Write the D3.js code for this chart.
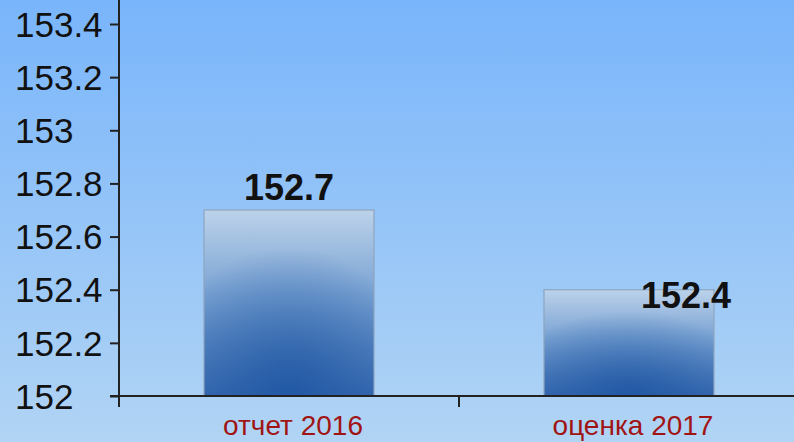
<!DOCTYPE html>
<html>
<head>
<meta charset="utf-8">
<script src="https://cdn.jsdelivr.net/npm/d3@7"></script>
<style>
  body { margin: 0; overflow: hidden; }
  #viz { width: 794px; height: 442px; }
  text { font-family: "Liberation Sans", Arial, sans-serif; }
</style>
</head>
<body>
<div id="viz"></div>
<script>
var categories = ['отчет 2016', 'оценка 2017'];
var values = [152.7, 152.4];
var valueLabels = ['152.7', '152.4'];
var labelShift = [[0, -10], [57, 18]];
var yTicks = [152, 152.2, 152.4, 152.6, 152.8, 153, 153.2, 153.4];

function makeChart() {
    var width = 794, height = 442;
    var margin = { top: 24, right: -5, bottom: 46, left: 119 };

    var svg = d3.select('#viz').append('svg')
        .attr('width', width)
        .attr('height', height);

    var defs = svg.append('defs');
    var bg = defs.append('linearGradient').attr('id', 'bg')
        .attr('x1', 0).attr('y1', 0).attr('x2', 0).attr('y2', 1);
    bg.append('stop').attr('offset', '0%').attr('stop-color', '#79b5fb');
    bg.append('stop').attr('offset', '100%').attr('stop-color', '#b1d4f4');

    var barGrad = defs.append('linearGradient').attr('id', 'barGrad')
        .attr('x1', 0).attr('y1', 0).attr('x2', 0).attr('y2', 1);
    barGrad.append('stop').attr('offset', '0%').attr('stop-color', '#bcd2ea');
    barGrad.append('stop').attr('offset', '45%').attr('stop-color', '#7aa3d3');
    barGrad.append('stop').attr('offset', '100%').attr('stop-color', '#3a6cb2');

    // darker spot at the bottom middle of each bar
    var spot = defs.append('radialGradient').attr('id', 'spot')
        .attr('cx', 0.5).attr('cy', 1).attr('r', 0.8);
    spot.append('stop').attr('offset', '0%').attr('stop-color', '#1d55a2').attr('stop-opacity', 0.85);
    spot.append('stop').attr('offset', '100%').attr('stop-color', '#1d55a2').attr('stop-opacity', 0);

    svg.append('rect')
        .attr('width', width).attr('height', height)
        .attr('fill', 'url(#bg)');

    var innerW = width - margin.left - margin.right;
    var innerH = height - margin.top - margin.bottom;

    var x = d3.scaleBand().domain(categories).range([0, innerW]).paddingInner(0).paddingOuter(0);
    var y = d3.scaleLinear().domain([152, 153.4]).range([innerH, 0]);

    var g = svg.append('g')
        .attr('transform', 'translate(' + margin.left + ',' + margin.top + ')');

    // bars
    var bw = x.bandwidth() * 0.5;
    var bars = g.selectAll('.bar').data(values).enter().append('g');
    ['url(#barGrad)', 'url(#spot)'].forEach(function (fill, k) {
        bars.append('rect')
            .attr('x', function (d, i) { return x(categories[i]) + (x.bandwidth() - bw) / 2; })
            .attr('y', function (d) { return y(d); })
            .attr('width', bw)
            .attr('height', function (d) { return innerH - y(d); })
            .attr('fill', fill)
            .attr('stroke', k ? '#8ea5bf' : 'none')
            .attr('stroke-width', 1.2);
    });

    // y axis
    var yAxis = g.append('g')
        .call(d3.axisLeft(y).tickValues(yTicks).tickSize(9)
            .tickFormat(function (d) { return d3.format('')(+d.toFixed(1)); }));
    yAxis.select('.domain').remove();
    yAxis.selectAll('.tick line').attr('stroke', '#222').attr('stroke-width', 2);
    yAxis.selectAll('text')
        .attr('font-size', 35).attr('fill', '#111').attr('dy', '0.35em')
        .attr('text-anchor', 'start').attr('x', -104);
    g.append('line')
        .attr('x1', 0).attr('x2', 0)
        .attr('y1', -margin.top).attr('y2', innerH + 11)
        .attr('stroke', '#222').attr('stroke-width', 2);

    // x axis
    g.append('line')
        .attr('x1', -9).attr('x2', innerW)
        .attr('y1', innerH).attr('y2', innerH)
        .attr('stroke', '#222').attr('stroke-width', 2);
    g.append('line')
        .attr('x1', x(categories[1])).attr('x2', x(categories[1]))
        .attr('y1', innerH).attr('y2', innerH + 11)
        .attr('stroke', '#222').attr('stroke-width', 2);

    g.selectAll('.cat').data(categories).enter().append('text')
        .attr('x', function (d) { return x(d) + x.bandwidth() / 2 + 4; })
        .attr('y', innerH + 39)
        .attr('text-anchor', 'middle')
        .attr('font-size', 28)
        .attr('fill', '#a01414')
        .text(function (d) { return d; });

    // value labels
    g.selectAll('.val').data(values).enter().append('text')
        .attr('x', function (d, i) { return x(categories[i]) + x.bandwidth() / 2 + labelShift[i][0]; })
        .attr('y', function (d, i) { return y(d) + labelShift[i][1]; })
        .attr('text-anchor', 'middle')
        .attr('font-size', 36)
        .attr('font-weight', 'bold')
        .attr('fill', '#111')
        .text(function (d, i) { return valueLabels[i]; });
}

makeChart();
</script>
</body>
</html>
